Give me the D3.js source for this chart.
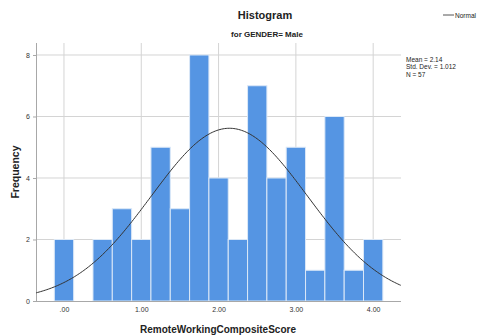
<!DOCTYPE html>
<html>
<head>
<meta charset="utf-8">
<script src="https://cdn.jsdelivr.net/npm/d3@7"></script>
<style>
  html, body { margin: 0; padding: 0; background: #fff; }
  svg { display: block; font-family: "Liberation Sans", Arial, sans-serif; }
</style>
</head>
<body>
<svg id="chart" width="478" height="336"></svg>
<script>
// Histogram bins (centre of each 0.25-wide bin) and their frequencies
const binCenters = [0, 0.25, 0.5, 0.75, 1, 1.25, 1.5, 1.75, 2, 2.25, 2.5, 2.75, 3, 3.25, 3.5, 3.75, 4];
const frequencies = [2, 0, 2, 3, 2, 5, 3, 8, 4, 2, 7, 4, 5, 1, 6, 1, 2];
const binWidth = 0.25;
const xTicks = [0, 1, 2, 3, 4];
const yTicks = [0, 2, 4, 6, 8];
const stats = { mean: 2.14, sd: 1.012, n: 57 };
const statLines = ["Mean = 2.14", "Std. Dev. = 1.012", "N = 57"];

const svg = d3.select("#chart");
const plot = { left: 36, right: 401, top: 43, bottom: 301 };

const x = d3.scaleLinear().domain([-0.362, 4.36]).range([plot.left, plot.right]);
const y = d3.scaleLinear().domain([0, 8.39]).range([plot.bottom, plot.top]);

const gridColor = "#d4d4d4";

// gridlines
svg.append("g").selectAll("line.v").data(xTicks).join("line")
  .attr("x1", d => x(d)).attr("x2", d => x(d))
  .attr("y1", plot.top).attr("y2", plot.bottom)
  .attr("stroke", gridColor).attr("stroke-width", 1);
svg.append("g").selectAll("line.h").data(yTicks.filter(d => d > 0)).join("line")
  .attr("x1", plot.left).attr("x2", plot.right)
  .attr("y1", d => y(d)).attr("y2", d => y(d))
  .attr("stroke", gridColor).attr("stroke-width", 1);

// bars
svg.append("g").selectAll("rect").data(binCenters.map((c, i) => ({ c, f: frequencies[i] })).filter(d => d.f > 0))
  .join("rect")
  .attr("x", d => x(d.c - binWidth / 2))
  .attr("width", d => x(d.c + binWidth / 2) - x(d.c - binWidth / 2))
  .attr("y", d => y(d.f))
  .attr("height", d => y(0) - y(d.f))
  .attr("fill", "#5595e3")
  .attr("stroke", "#dbe8f7")
  .attr("stroke-width", 1);

// axes
const xAxis = d3.axisBottom(x).tickValues(xTicks).tickFormat(d => d === 0 ? ".00" : d3.format(".2f")(d)).tickSize(0).tickPadding(6);
const yAxis = d3.axisLeft(y).tickValues(yTicks).tickFormat(d3.format("d")).tickSize(3).tickPadding(3);

const gx = svg.append("g").attr("transform", `translate(0,${plot.bottom})`).call(xAxis);
gx.select(".domain").attr("d", `M${plot.left},0.5H${plot.right}`).attr("stroke", "#a8a8a8");
gx.selectAll("text").attr("font-size", 7).attr("fill", "#333").attr("font-family", "Liberation Sans, Arial, sans-serif");

const gy = svg.append("g").attr("transform", `translate(${plot.left},0)`).call(yAxis);
gy.select(".domain").attr("d", `M0.5,${plot.top}V${plot.bottom}`).attr("stroke", "#a8a8a8");
gy.selectAll(".tick line").attr("stroke", "#a8a8a8");
gy.selectAll("text").attr("font-size", 7).attr("fill", "#333").attr("font-family", "Liberation Sans, Arial, sans-serif");

// fitted normal curve scaled to counts
const curvePts = d3.range(-0.362, 4.3601, 0.02).map(v => [v,
  stats.n * binWidth * Math.exp(-0.5 * ((v - stats.mean) / stats.sd) ** 2) / (stats.sd * Math.sqrt(2 * Math.PI))]);
svg.append("path")
  .attr("d", d3.line().x(d => x(d[0])).y(d => y(d[1])).curve(d3.curveBasis)(curvePts))
  .attr("fill", "none").attr("stroke", "#333").attr("stroke-width", 1);

// titles
svg.append("text").attr("x", 265).attr("y", 19).attr("text-anchor", "middle")
  .attr("font-size", 11).attr("font-weight", "bold").attr("fill", "#222").text("Histogram");
svg.append("text").attr("x", 267).attr("y", 37).attr("text-anchor", "middle")
  .attr("font-size", 8).attr("font-weight", "bold").attr("fill", "#222").text("for GENDER= Male");

svg.append("text").attr("transform", "translate(19,172) rotate(-90)").attr("text-anchor", "middle")
  .attr("font-size", 10.5).attr("font-weight", "bold").attr("fill", "#222").text("Frequency");
svg.append("text").attr("x", 218).attr("y", 333).attr("text-anchor", "middle")
  .attr("font-size", 10).attr("font-weight", "bold").attr("fill", "#222").text("RemoteWorkingCompositeScore");

// statistics box
svg.append("g").selectAll("text").data(statLines).join("text")
  .attr("x", 406).attr("y", (d, i) => 62 + i * 7.3)
  .attr("font-size", 6.5).attr("fill", "#222").text(d => d);

// legend
svg.append("line").attr("x1", 443).attr("x2", 454).attr("y1", 15).attr("y2", 15)
  .attr("stroke", "#555").attr("stroke-width", 1);
svg.append("text").attr("x", 455).attr("y", 17.5).attr("font-size", 6.5).attr("fill", "#222").text("Normal");
</script>
</body>
</html>
